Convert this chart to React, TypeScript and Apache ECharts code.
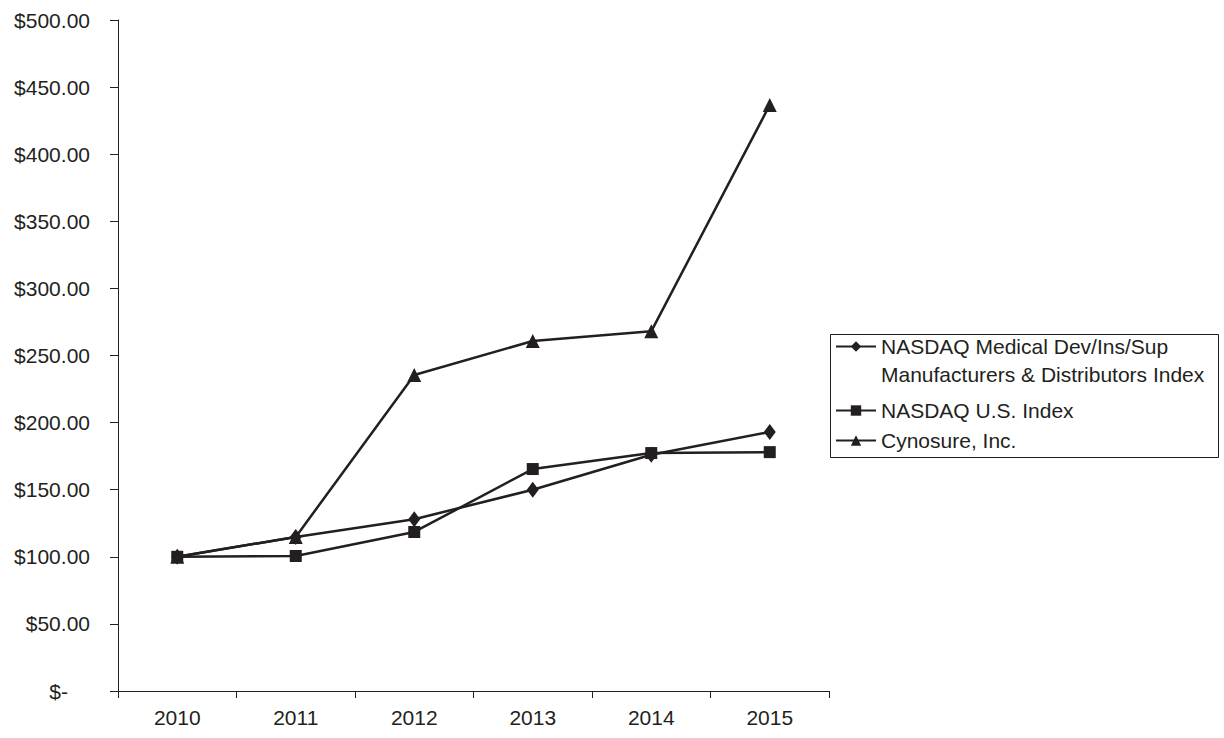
import React, { useEffect, useRef } from "react";
import * as echarts from "echarts";

const years = ["2010", "2011", "2012", "2013", "2014", "2015"];
const medicalLines = ["NASDAQ Medical Dev/Ins/Sup", "Manufacturers & Distributors Index"];
const medicalName = medicalLines.join(" ");
const nasdaqName = "NASDAQ U.S. Index";
const cynosureName = "Cynosure, Inc.";
const medicalValues = [100, 114.8, 128, 150, 176, 193];
const nasdaqValues = [100, 100.6, 118.5, 165.4, 177.3, 178];
const cynosureValues = [100, 114.8, 235.5, 260.8, 268, 436.7];

const INK = "#231f20";
const FONT = "'Liberation Sans', Arial, Helvetica, sans-serif";

export default function App() {
  const ref = useRef<HTMLDivElement>(null);
  useEffect(() => {
    if (!ref.current) return;
    const chart = echarts.init(ref.current, undefined, { renderer: "svg" });
    const lineSeries = (name: string, data: number[], symbol: string, size: any) => ({
      name,
      type: "line",
      data,
      symbol,
      symbolSize: size,
      showSymbol: true,
      lineStyle: { color: INK, width: 2.5 },
      itemStyle: { color: INK },
      emphasis: { disabled: true },
    });
    const legendBase = {
      orient: "vertical",
      left: 835,
      padding: 0,
      itemWidth: 40,
      itemHeight: 13,
      selectedMode: false,
    };
    const rich = {
      s: { fontSize: 21, lineHeight: 28, color: INK, fontFamily: FONT },
      a: { fontSize: 21, lineHeight: 28, color: INK, fontFamily: FONT },
      b: { fontSize: 21, lineHeight: 22, color: INK, fontFamily: FONT },
    };
    const legendText = { fontSize: 21, color: INK, fontFamily: FONT, rich };
    const fmt = (name: string) =>
      name === medicalName
        ? "{s| }\n{a|" + medicalLines[0] + "}\n{a|" + medicalLines[1] + "}"
        : "{b|" + name + "}";
    chart.setOption({
      animation: false,
      backgroundColor: "#ffffff",
      textStyle: { fontFamily: FONT, color: INK },
      grid: { left: 118, right: 395, top: 20, bottom: 47, containLabel: false },
      xAxis: {
        type: "category",
        data: years,
        boundaryGap: true,
        axisLine: { lineStyle: { color: INK, width: 1 } },
        axisTick: { show: true, length: 7, inside: false, lineStyle: { color: INK } },
        axisLabel: { margin: 16, fontSize: 21, color: INK, fontFamily: FONT },
        splitLine: { show: false },
      },
      yAxis: {
        type: "value",
        min: 0,
        max: 500,
        interval: 50,
        axisLine: { show: true, lineStyle: { color: INK, width: 1 } },
        axisTick: { show: true, length: 8, lineStyle: { color: INK } },
        splitLine: { show: false },
        axisLabel: {
          margin: 28,
          fontSize: 21,
          color: INK,
          fontFamily: FONT,
          formatter: (v: number) => (v === 0 ? "{z|$-}" : "$" + v.toFixed(2)),
          rich: {
            z: { padding: [0, 22, 0, 0], fontSize: 21, color: INK, fontFamily: FONT },
          },
        },
      },
      legend: [
        { ...legendBase, top: 308, data: [medicalName], formatter: fmt, textStyle: legendText },
        { ...legendBase, top: 400, data: [nasdaqName], formatter: fmt, textStyle: legendText },
        { ...legendBase, top: 430, data: [cynosureName], formatter: fmt, textStyle: legendText },
      ],
      graphic: [
        {
          type: "rect",
          shape: { x: 830.5, y: 334.5, width: 388, height: 123 },
          style: { fill: "none", stroke: INK, lineWidth: 1 },
          silent: true,
        },
      ],
      series: [
        lineSeries(medicalName, medicalValues, "diamond", [12, 16]),
        lineSeries(nasdaqName, nasdaqValues, "rect", 12),
        lineSeries(cynosureName, cynosureValues, "triangle", 14),
      ],
    });
    return () => chart.dispose();
  }, []);
  return (
    <div
      ref={ref}
      style={{ position: "fixed", left: 0, top: 0, width: 1224, height: 738, background: "#fff" }}
    />
  );
}
